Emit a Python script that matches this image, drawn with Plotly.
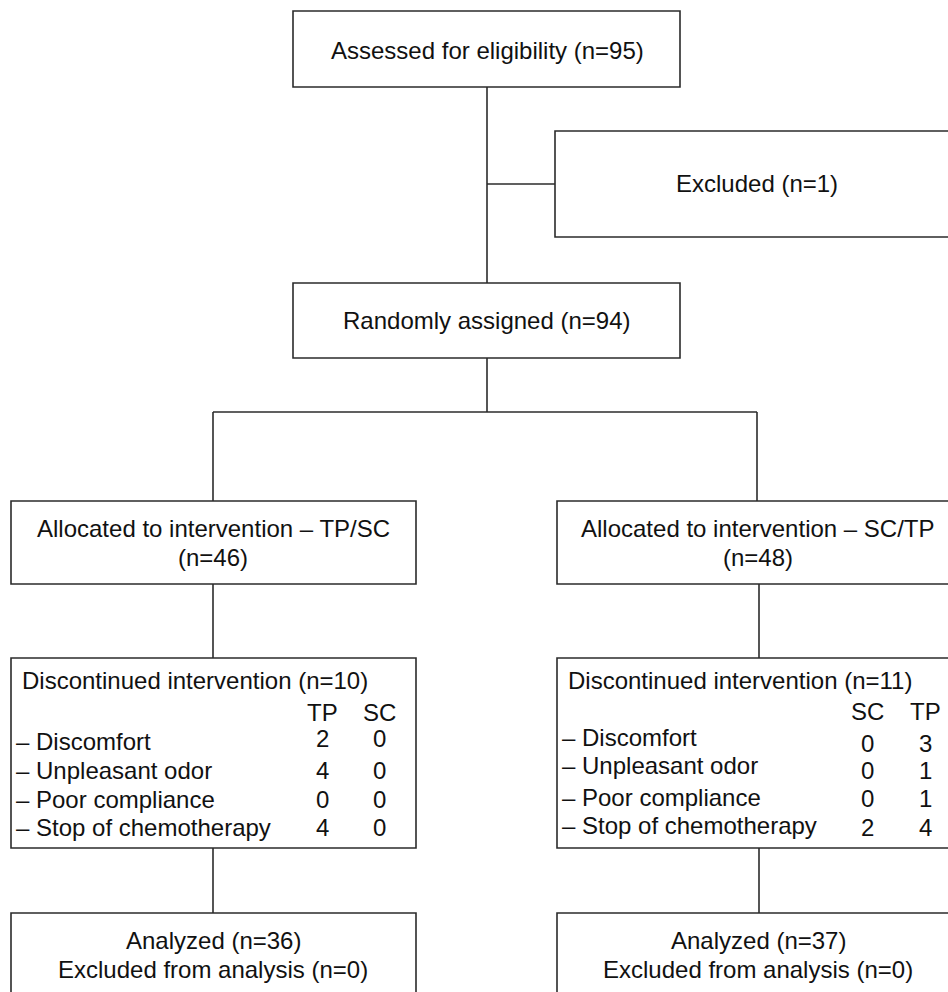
import plotly.graph_objects as go

# ---- data ----
assessed_n = 95
excluded_n = 1
randomized_n = 94
arm_names = ["TP/SC", "SC/TP"]
allocated_n = [46, 48]
discontinued_n = [10, 11]
column_heads = [["TP", "SC"], ["SC", "TP"]]
reasons = ["Discomfort", "Unpleasant odor", "Poor compliance", "Stop of chemotherapy"]
first_col_counts = [[2, 4, 0, 4], [0, 0, 0, 2]]
second_col_counts = [[0, 0, 0, 0], [3, 1, 1, 4]]
analyzed_n = [36, 37]
excluded_analysis_n = [0, 0]

# ---- layout geometry (pixels) ----
W, H = 948, 992
LC = "#2b2b2b"
LW = 1.6
FONT = "Liberation Sans, Arial, sans-serif"
FS = 24

shapes = []
ann = []


def box(x0, y0, x1, y1):
    shapes.append(dict(type="rect", xref="x", yref="y", x0=x0, y0=y0, x1=x1, y1=y1,
                       line=dict(color=LC, width=LW), fillcolor="rgba(0,0,0,0)"))


def line(x0, y0, x1, y1):
    shapes.append(dict(type="line", xref="x", yref="y", x0=x0, y0=y0, x1=x1, y1=y1,
                       line=dict(color=LC, width=LW)))


def text(x, y, s, anchor="center"):
    ann.append(dict(x=x, y=y, xref="x", yref="y", text=s, showarrow=False,
                    xanchor=anchor, yanchor="middle",
                    font=dict(family=FONT, size=FS, color="#111111")))


# top
box(293, 11, 680, 87)
text(487, 50, f"Assessed for eligibility (n={assessed_n})")
line(487, 87, 487, 283)
line(487, 184, 555, 184)
box(555, 131, 962, 237)
text(757, 183, f"Excluded (n={excluded_n})")
box(293, 283, 680, 358)
text(487, 320, f"Randomly assigned (n={randomized_n})")
line(487, 358, 487, 412)
line(213, 412, 757, 412)

arms = [
    dict(bx0=11, bx1=416, cx=213, vx_top=213, vx=213, title_x=20, lab_x=14,
         colx=[322, 379], head_y=712, lab_y=[741, 770, 799, 827], num_y=[738, 770, 799, 827]),
    dict(bx0=557, bx1=962, cx=758, vx_top=757, vx=759, title_x=566, lab_x=560,
         colx=[867, 925], head_y=711, lab_y=[737, 765, 797, 825], num_y=[743, 770, 798, 827]),
]

for i, a in enumerate(arms):
    line(a["vx_top"], 412, a["vx_top"], 501)
    box(a["bx0"], 501, a["bx1"], 584)
    text(a["cx"], 528, f"Allocated to intervention – {arm_names[i]}")
    text(a["cx"], 557, f"(n={allocated_n[i]})")
    line(a["vx"], 584, a["vx"], 658)
    box(a["bx0"], 658, a["bx1"], 848)
    text(a["title_x"], 680, f"Discontinued intervention (n={discontinued_n[i]})", anchor="left")
    text(a["colx"][0], a["head_y"], column_heads[i][0])
    text(a["colx"][1], a["head_y"], column_heads[i][1])
    for j, r in enumerate(reasons):
        text(a["lab_x"], a["lab_y"][j], f"– {r}", anchor="left")
        text(a["colx"][0], a["num_y"][j], str(first_col_counts[i][j]))
        text(a["colx"][1], a["num_y"][j], str(second_col_counts[i][j]))
    line(a["vx"], 848, a["vx"], 913)
    box(a["bx0"], 913, a["bx1"], 1005)
    text(a["cx"], 940, f"Analyzed (n={analyzed_n[i]})")
    text(a["cx"], 969, f"Excluded from analysis (n={excluded_analysis_n[i]})")

fig = go.Figure()
fig.update_layout(
    width=W, height=H, margin=dict(l=0, r=0, t=0, b=0),
    paper_bgcolor="white", plot_bgcolor="white",
    xaxis=dict(range=[0, W], visible=False, fixedrange=True),
    yaxis=dict(range=[H, 0], visible=False, fixedrange=True),
    shapes=shapes, annotations=ann, showlegend=False,
)
fig.write_html("out.html", config={"displayModeBar": False},
               post_script="document.body.style.margin='0';document.body.style.overflow='hidden';")
